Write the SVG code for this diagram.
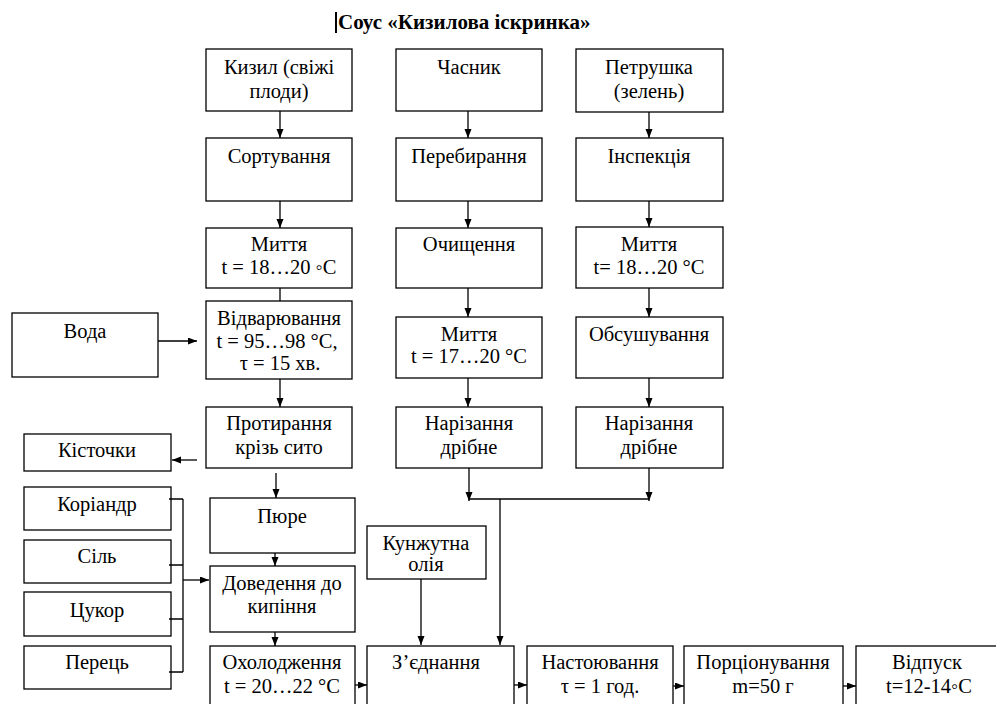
<svg xmlns="http://www.w3.org/2000/svg" width="996" height="704" viewBox="0 0 996 704" font-family="'Liberation Serif', 'Times New Roman', serif">
<defs>
<style>
.box{fill:#fff;stroke:#000;stroke-width:1.3}
.t{font-size:20.5px;fill:#000;text-anchor:middle}
.title{font-size:21px;font-weight:bold;fill:#000}
.c{fill:none;stroke:#000;stroke-width:1.3}
.a{fill:none;stroke:#000;stroke-width:1.3;marker-end:url(#ah)}
</style>
<marker id="ah" markerUnits="userSpaceOnUse" markerWidth="10" markerHeight="8" refX="9" refY="3.5" orient="auto">
<path d="M0,0 L9,3.5 L0,7 z" fill="#000"/>
</marker>
</defs>
<rect width="996" height="704" fill="#fff"/>
<g id="title">
<rect x="335" y="12" width="2" height="21" fill="#000"/>
<text class="title" x="338" y="29">Соус  «Кизилова іскринка»</text>
</g>

<g id="kyzyl"><rect class="box" x="206" y="49" width="146" height="62"/><text class="t" x="279" y="74">Кизил (свіжі</text><text class="t" x="279" y="98">плоди)</text></g>
<g id="chasnyk"><rect class="box" x="396" y="49" width="146" height="62"/><text class="t" x="469" y="74">Часник</text></g>
<g id="petrushka"><rect class="box" x="576" y="49" width="147" height="63"/><text class="t" x="649" y="74">Петрушка</text><text class="t" x="649" y="98">(зелень)</text></g>

<g id="sortuvannia"><rect class="box" x="206" y="138" width="146" height="63"/><text class="t" x="279" y="163">Сортування</text></g>
<g id="perebyrannia"><rect class="box" x="396" y="138" width="146" height="63"/><text class="t" x="469" y="163">Перебирання</text></g>
<g id="inspektsiia"><rect class="box" x="576" y="138" width="147" height="63"/><text class="t" x="649" y="163">Інспекція</text></g>

<g id="myttia1"><rect class="box" x="206" y="228" width="146" height="60"/><text class="t" x="279" y="251">Миття</text><text class="t" x="279" y="274">t = 18…20 ◦C</text></g>
<g id="ochyshchennia"><rect class="box" x="396" y="228" width="146" height="60"/><text class="t" x="469" y="251">Очищення</text></g>
<g id="myttia3"><rect class="box" x="576" y="227" width="147" height="61"/><text class="t" x="649" y="251">Миття</text><text class="t" x="649" y="274">t= 18…20 °C</text></g>

<g id="voda"><rect class="box" x="12" y="313" width="146" height="64"/><text class="t" x="85" y="338">Вода</text></g>
<g id="vidvariuvannia"><rect class="box" x="206" y="301" width="146" height="78"/><text class="t" x="279" y="325">Відварювання</text><text class="t" x="277" y="348">t = 95…98 °C,</text><text class="t" x="280" y="370">τ = 15 хв.</text></g>
<g id="myttia2"><rect class="box" x="396" y="317" width="146" height="61"/><text class="t" x="469" y="341">Миття</text><text class="t" x="469" y="363">t = 17…20 °C</text></g>
<g id="obsushuvannia"><rect class="box" x="576" y="317" width="147" height="61"/><text class="t" x="649" y="341">Обсушування</text></g>

<g id="protyrannia"><rect class="box" x="206" y="407" width="146" height="61"/><text class="t" x="279" y="430">Протирання</text><text class="t" x="279" y="454">крізь сито</text></g>
<g id="narizannia1"><rect class="box" x="396" y="407" width="146" height="61"/><text class="t" x="469" y="430">Нарізання</text><text class="t" x="469" y="454">дрібне</text></g>
<g id="narizannia2"><rect class="box" x="576" y="407" width="147" height="61"/><text class="t" x="649" y="430">Нарізання</text><text class="t" x="649" y="454">дрібне</text></g>

<g id="kistochky"><rect class="box" x="24" y="434" width="147" height="37"/><text class="t" x="97" y="457">Кісточки</text></g>
<g id="koriandr"><rect class="box" x="24" y="487" width="147" height="43"/><text class="t" x="97" y="511">Коріандр</text></g>
<g id="sil"><rect class="box" x="24" y="540" width="147" height="43"/><text class="t" x="97" y="563">Сіль</text></g>
<g id="tsukor"><rect class="box" x="24" y="592" width="147" height="44"/><text class="t" x="97" y="617">Цукор</text></g>
<g id="perets"><rect class="box" x="24" y="646" width="147" height="43"/><text class="t" x="97" y="669">Перець</text></g>

<g id="piure"><rect class="box" x="210" y="498" width="145" height="55"/><text class="t" x="282" y="523">Пюре</text></g>
<g id="dovedennia"><rect class="box" x="210" y="566" width="145" height="66"/><text class="t" x="282" y="590">Доведення до</text><text class="t" x="282" y="613">кипіння</text></g>
<g id="okholodzhennia"><rect class="box" x="210" y="646" width="145" height="64"/><text class="t" x="282" y="669">Охолодження</text><text class="t" x="282" y="693">t = 20…22 °C</text></g>

<g id="kunzhutna"><rect class="box" x="367" y="526" width="119" height="53"/><text class="t" x="426" y="550">Кунжутна</text><text class="t" x="426" y="571">олія</text></g>
<g id="ziednannia"><rect class="box" x="367" y="646" width="147" height="64"/><text class="t" x="436" y="669">З’єднання</text></g>
<g id="nastoiuvannia"><rect class="box" x="527" y="646" width="146" height="64"/><text class="t" x="600" y="669">Настоювання</text><text class="t" x="600" y="693">τ = 1 год.</text></g>
<g id="portsionuvannia"><rect class="box" x="684" y="646" width="159" height="64"/><text class="t" x="763" y="669">Порціонування</text><text class="t" x="763" y="693">m=50 г</text></g>
<g id="vidpusk"><rect class="box" x="856" y="646" width="150" height="64"/><text class="t" x="927" y="669">Відпуск</text><text class="t" x="929" y="693">t=12-14◦C</text></g>

<g id="connectors">
<line class="a" x1="280" y1="111" x2="280" y2="138"/>
<line class="a" x1="280" y1="201" x2="280" y2="228"/>
<line class="c" x1="280" y1="288" x2="280" y2="301"/>
<line class="a" x1="158" y1="341" x2="197" y2="341"/>
<line class="a" x1="280" y1="379" x2="280" y2="407"/>
<line class="a" x1="197" y1="460" x2="172" y2="460"/>
<line class="a" x1="276" y1="473" x2="276" y2="498"/>
<line class="a" x1="275" y1="553" x2="275" y2="566"/>
<line class="a" x1="275" y1="632" x2="275" y2="646"/>
<path class="c" d="M169,499 H183 M169,565 H183 M169,619 H183 M169,672 H183 M183,499 V672"/>
<line class="a" x1="183" y1="580" x2="209" y2="580"/>
<line class="a" x1="355" y1="685" x2="367" y2="685"/>

<line class="a" x1="468" y1="111" x2="468" y2="138"/>
<line class="a" x1="468" y1="201" x2="468" y2="228"/>
<line class="a" x1="468" y1="288" x2="468" y2="317"/>
<line class="a" x1="468" y1="378" x2="468" y2="407"/>

<line class="a" x1="649" y1="112" x2="649" y2="138"/>
<line class="a" x1="649" y1="201" x2="649" y2="227"/>
<line class="a" x1="649" y1="288" x2="649" y2="317"/>
<line class="a" x1="649" y1="378" x2="649" y2="407"/>

<line class="a" x1="469" y1="468" x2="469" y2="501"/>
<line class="a" x1="649" y1="468" x2="649" y2="501"/>
<line class="c" x1="469" y1="499" x2="649" y2="499"/>
<line class="a" x1="500" y1="499" x2="500" y2="645"/>
<line class="a" x1="421" y1="579" x2="421" y2="645"/>

<line class="a" x1="514" y1="685" x2="527" y2="685"/>
<line class="a" x1="673" y1="686" x2="684" y2="686"/>
<line class="a" x1="843" y1="686" x2="856" y2="686"/>
</g>
</svg>
